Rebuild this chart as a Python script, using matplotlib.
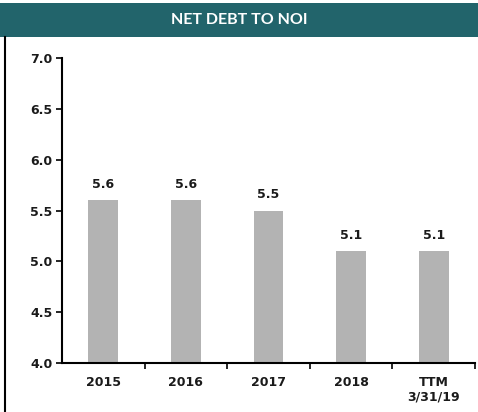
import matplotlib.pyplot as plt
import matplotlib.patches as mpatches
import numpy as np

# Chart data
categories = ['2015', '2016', '2017', '2018', 'TTM\n3/31/19']
values = [5.6, 5.6, 5.5, 5.1, 5.1]
y_ticks = [4.0, 4.5, 5.0, 5.5, 6.0, 6.5, 7.0]

BAR_COLOR = '#b3b3b3'
HEADER_COLOR = '#22646b'
TEXT_COLOR = '#1a1a1a'
FONT = 'DejaVu Sans'

fig = plt.figure(figsize=(4.78, 4.12), dpi=100)

# Header band with title
fig.patches.append(mpatches.Rectangle((0, 1 - 37 / 412), 1, 34 / 412,
                                      transform=fig.transFigure,
                                      facecolor=HEADER_COLOR, edgecolor='none'))
fig.text(0.5, 1 - 20 / 412, 'NET DEBT TO NOI', ha='center', va='center',
         color='white', fontsize=11.5, fontweight='bold', family='Lato')

# Left frame line
fig.lines.append(plt.Line2D([5 / 478, 5 / 478], [0, 1 - 37 / 412],
                            transform=fig.transFigure, color='black', linewidth=1.5))

ax = fig.add_axes([62 / 478, 1 - 363 / 412, 413 / 478, 305 / 412])
x = np.arange(len(categories))
ax.bar(x, values, width=0.36, color=BAR_COLOR, zorder=2)

for xi, v in zip(x, values):
    ax.text(xi, v + 0.09, f'{v:.1f}', ha='center', va='bottom',
            fontsize=9, fontweight='bold', color=TEXT_COLOR, family=FONT)

ax.set_ylim(4.0, 7.0)
ax.set_xlim(-0.5, len(categories) - 0.5)
ax.set_yticks(y_ticks)
ax.set_yticklabels([f'{t:.1f}' for t in y_ticks], fontsize=9, fontweight='bold',
                   color=TEXT_COLOR, family=FONT)
ax.set_xticks(x)
ax.set_xticklabels(categories, fontsize=9, fontweight='bold',
                   color=TEXT_COLOR, family=FONT, linespacing=1.15)
ax.tick_params(axis='x', which='major', length=0, pad=9)
ax.set_xticks(list(x[:-1] + 0.5) + [len(categories) - 0.5], minor=True)
ax.tick_params(axis='x', which='minor', length=4, width=1.2, direction='out')
ax.tick_params(axis='y', length=4, width=1.2, direction='out', pad=3)

for side in ['top', 'right']:
    ax.spines[side].set_visible(False)
for side in ['left', 'bottom']:
    ax.spines[side].set_linewidth(1.5)

plt.savefig('out.png', dpi=100)
